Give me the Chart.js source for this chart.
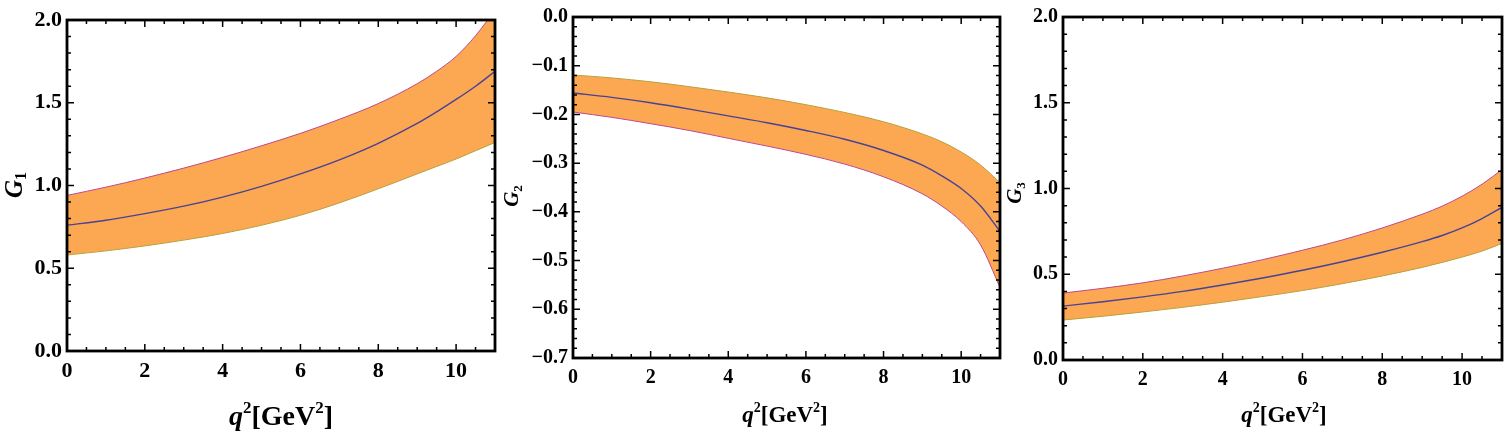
<!DOCTYPE html>
<html>
<head>
<meta charset="utf-8">
<script src="https://cdn.jsdelivr.net/npm/chart.js@4.4.0/dist/chart.umd.min.js"></script>
<style>
  body { margin: 0; background: #fff; width: 1506px; height: 438px; overflow: hidden; position: relative; }
  canvas { position: absolute; top: 0; }
</style>
</head>
<body>
<canvas id="g1" width="500" height="438" style="left:0px"></canvas>
<canvas id="g2" width="505" height="438" style="left:500px"></canvas>
<canvas id="g3" width="501" height="438" style="left:1005px"></canvas>
<script>
// q^2 sample points (GeV^2)
const q2 = [0, 1, 2, 3, 4, 5, 6, 7, 8, 9, 9.5, 10, 10.5, 11];

// G1 band
const g1Upper   = [0.94, 0.99, 1.045, 1.105, 1.17, 1.24, 1.315, 1.40, 1.495, 1.615, 1.69, 1.78, 1.905, 2.06];
const g1Central = [0.76, 0.79, 0.83, 0.875, 0.93, 0.995, 1.07, 1.155, 1.255, 1.375, 1.445, 1.52, 1.60, 1.69];
const g1Lower   = [0.58, 0.605, 0.635, 0.67, 0.71, 0.76, 0.82, 0.895, 0.98, 1.07, 1.115, 1.16, 1.21, 1.26];

// G2 band
const g2Upper   = [-0.119, -0.125, -0.133, -0.143, -0.154, -0.166, -0.180, -0.196, -0.215, -0.240, -0.256, -0.277, -0.304, -0.340];
const g2Central = [-0.156, -0.165, -0.176, -0.189, -0.203, -0.217, -0.233, -0.251, -0.274, -0.304, -0.326, -0.352, -0.388, -0.440];
const g2Lower   = [-0.195, -0.206, -0.219, -0.233, -0.249, -0.265, -0.282, -0.302, -0.328, -0.363, -0.388, -0.420, -0.468, -0.555];

// G3 band
const g3Upper   = [0.39, 0.418, 0.45, 0.49, 0.535, 0.585, 0.64, 0.70, 0.77, 0.85, 0.897, 0.955, 1.025, 1.11];
const g3Central = [0.314, 0.34, 0.368, 0.40, 0.437, 0.478, 0.523, 0.573, 0.628, 0.69, 0.726, 0.77, 0.825, 0.89];
const g3Lower   = [0.233, 0.255, 0.28, 0.307, 0.337, 0.37, 0.405, 0.445, 0.49, 0.54, 0.569, 0.60, 0.635, 0.68];

const SERIF = '"Liberation Serif", "DejaVu Serif", serif';
const ORANGE = 'rgb(252, 168, 82)';
const MAGENTA = 'rgb(192, 70, 140)';
const OLIVE = 'rgb(185, 160, 60)';
const NAVY = 'rgb(72, 66, 150)';

function pts(ys) {
    return q2.map((x, i) => ({ x: x, y: ys[i] }));
}

function fmt(v) {
    let s = Math.abs(v) < 1e-9 ? '0.0' : v.toFixed(1);
    return s.replace('-', '\u2212');
}

// draw a run of text pieces with different fonts (for super/subscripts)
function drawParts(ctx, parts, cx, cy) {
    let w = 0;
    parts.forEach(p => { ctx.font = p.font; w += ctx.measureText(p.t).width; });
    let x = cx - w / 2;
    parts.forEach(p => {
        ctx.font = p.font;
        ctx.fillText(p.t, x, cy + (p.dy || 0));
        x += ctx.measureText(p.t).width;
    });
}

// frame with inward ticks on all four sides, plus axis titles
const framePlugin = {
    id: 'frame',
    afterDraw(chart, args, o) {
        const ctx = chart.ctx;
        const a = chart.chartArea;
        const x = chart.scales.x, y = chart.scales.y;
        ctx.save();
        ctx.strokeStyle = '#000';
        ctx.lineWidth = 1.5;
        ctx.beginPath();
        let n = Math.round((x.max - x.min) / o.minorX);
        for (let i = 0; i <= n; i++) {
            const v = x.min + i * o.minorX;
            const major = Math.abs(v / o.majorX - Math.round(v / o.majorX)) < 1e-6;
            const len = major ? 7 : 4;
            const px = x.getPixelForValue(v);
            ctx.moveTo(px, a.bottom); ctx.lineTo(px, a.bottom - len);
            ctx.moveTo(px, a.top); ctx.lineTo(px, a.top + len);
        }
        n = Math.round((y.max - y.min) / o.minorY);
        for (let i = 0; i <= n; i++) {
            const v = y.min + i * o.minorY;
            const major = Math.abs(v / o.majorY - Math.round(v / o.majorY)) < 1e-6;
            const len = major ? 7 : 4;
            const py = y.getPixelForValue(v);
            ctx.moveTo(a.left, py); ctx.lineTo(a.left + len, py);
            ctx.moveTo(a.right, py); ctx.lineTo(a.right - len, py);
        }
        ctx.stroke();
        ctx.lineWidth = 2.8;
        ctx.strokeRect(a.left, a.top, a.right - a.left, a.bottom - a.top);

        ctx.fillStyle = '#000';
        ctx.textBaseline = 'alphabetic';
        const S = o.xTitleSize, s = Math.round(S * 0.62);
        drawParts(ctx, [
            { t: 'q', font: `italic bold ${S}px ${SERIF}` },
            { t: '2', font: `bold ${s}px ${SERIF}`, dy: -S * 0.42 },
            { t: '[GeV', font: `bold ${S}px ${SERIF}` },
            { t: '2', font: `bold ${s}px ${SERIF}`, dy: -S * 0.42 },
            { t: ']', font: `bold ${S}px ${SERIF}` }
        ], o.xTitleX, o.xTitleY);

        const T = o.yTitleSize, t = Math.round(T * 0.62);
        ctx.translate(o.yTitleX, o.yTitleY);
        ctx.rotate(-Math.PI / 2);
        ctx.textBaseline = 'middle';
        drawParts(ctx, [
            { t: 'G', font: `italic bold ${T}px ${SERIF}` },
            { t: o.sub, font: `bold ${t}px ${SERIF}`, dy: T * 0.25 }
        ], 0, 0);
        ctx.restore();
    }
};

function makeChart(id, upper, central, lower, upColor, lowColor, cfg) {
    new Chart(document.getElementById(id).getContext('2d'), {
        type: 'line',
        data: {
            datasets: [{
                data: pts(upper),
                borderColor: upColor,
                borderWidth: 1,
                backgroundColor: ORANGE,
                fill: 1,
                order: 2,
                pointRadius: 0,
                cubicInterpolationMode: 'monotone'
            }, {
                data: pts(lower),
                borderColor: lowColor,
                borderWidth: 1,
                fill: false,
                order: 1,
                pointRadius: 0,
                cubicInterpolationMode: 'monotone'
            }, {
                data: pts(central),
                borderColor: NAVY,
                borderWidth: 1.4,
                fill: false,
                order: 0,
                pointRadius: 0,
                cubicInterpolationMode: 'monotone'
            }]
        },
        options: {
            responsive: false,
            animation: false,
            devicePixelRatio: 1,
            layout: { padding: { top: cfg.top, right: cfg.right, left: 0, bottom: 0 } },
            plugins: {
                legend: { display: false },
                tooltip: { enabled: false },
                frame: cfg.frame
            },
            scales: {
                x: {
                    type: 'linear',
                    min: 0, max: 11,
                    grid: { display: false, drawTicks: false },
                    border: { display: false },
                    ticks: {
                        stepSize: 2,
                        includeBounds: false,
                        maxRotation: 0,
                        padding: cfg.xPad,
                        color: '#000',
                        font: { family: SERIF, size: cfg.tickSize, weight: 'bold' },
                        callback: v => String(v)
                    },
                    afterFit: s => { s.height = cfg.xHeight; }
                },
                y: {
                    min: cfg.yMin, max: cfg.yMax,
                    grid: { display: false, drawTicks: false },
                    border: { display: false },
                    ticks: {
                        stepSize: cfg.yStep,
                        padding: 5,
                        color: '#000',
                        font: { family: SERIF, size: cfg.tickSize, weight: 'bold' },
                        callback: v => fmt(v)
                    },
                    afterFit: s => { s.width = cfg.yWidth; }
                }
            }
        },
        plugins: [framePlugin]
    });
}

makeChart('g1', g1Upper, g1Central, g1Lower, MAGENTA, OLIVE, {
    top: 20, right: 5, xHeight: 87, yWidth: 67, xPad: 7,
    yMin: 0, yMax: 2, yStep: 0.5, tickSize: 22,
    frame: { minorX: 0.5, majorX: 2, minorY: 0.1, majorY: 0.5,
             xTitleSize: 28, xTitleX: 281, xTitleY: 425,
             yTitleSize: 25, yTitleX: 16, yTitleY: 185, sub: '1' }
});

makeChart('g2', g2Upper, g2Central, g2Lower, OLIVE, MAGENTA, {
    top: 17, right: 5, xHeight: 80, yWidth: 73, xPad: 8,
    yMin: -0.7, yMax: 0, yStep: 0.1, tickSize: 20,
    frame: { minorX: 0.5, majorX: 2, minorY: 0.02, majorY: 0.1,
             xTitleSize: 23, xTitleX: 285, xTitleY: 422,
             yTitleSize: 21, yTitleX: 13, yTitleY: 196, sub: '2' }
});

makeChart('g3', g3Upper, g3Central, g3Lower, MAGENTA, OLIVE, {
    top: 16, right: 4, xHeight: 78, yWidth: 58, xPad: 8,
    yMin: 0, yMax: 2, yStep: 0.5, tickSize: 20,
    frame: { minorX: 0.5, majorX: 2, minorY: 0.1, majorY: 0.5,
             xTitleSize: 23, xTitleX: 279, xTitleY: 422,
             yTitleSize: 21, yTitleX: 11, yTitleY: 193, sub: '3' }
});
</script>
</body>
</html>
